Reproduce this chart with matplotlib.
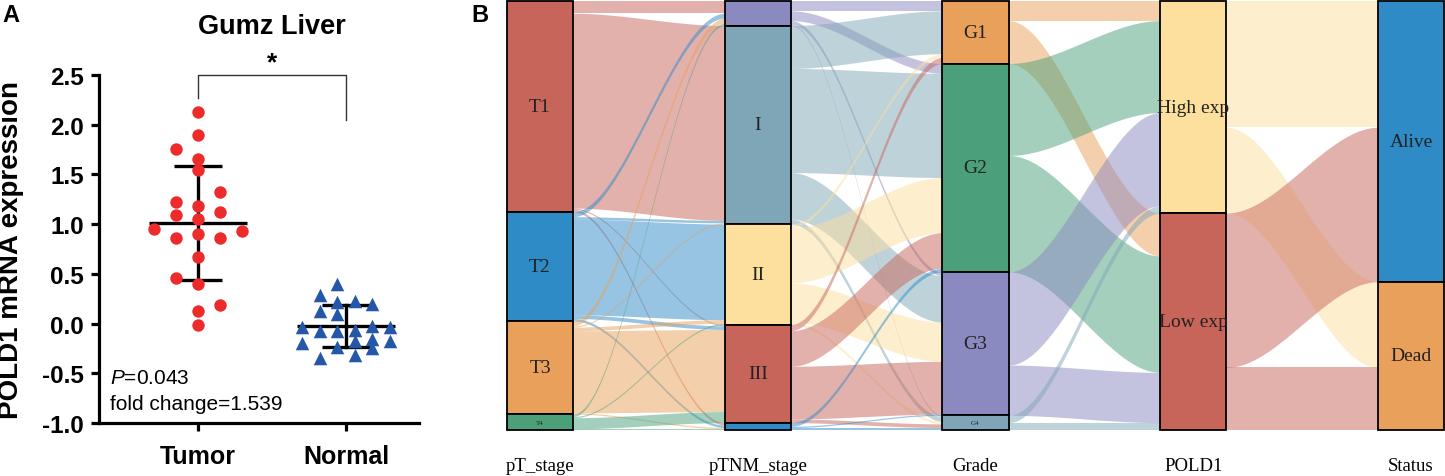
import numpy as np
import matplotlib
matplotlib.use('Agg')
import matplotlib.pyplot as plt
from matplotlib.patches import Rectangle

plt.rcParams['font.family'] = 'Liberation Sans'
plt.rcParams['mathtext.fontset'] = 'custom'
plt.rcParams['mathtext.it'] = 'Liberation Sans:italic'
plt.rcParams['mathtext.rm'] = 'Liberation Sans'

# ---------------- panel A data ----------------
groups = ['Tumor', 'Normal']
tumor_vals = [2.13, 1.90, 1.76, 1.655, 1.545, 1.32, 1.22, 1.18, 1.12, 1.09, 1.05,
              0.95, 0.93, 0.90, 0.86, 0.86, 0.67, 0.46, 0.395, 0.19, 0.13, -0.01]
tumor_slot = [0, 0, -1, 0, 0, 1, -1, 0, 1, -1, 0, -2, 2, 0, -1, 1, 0, -1, 0, 1, 0, 0]
normal_vals = [0.40, 0.29, 0.22, 0.23, 0.20, 0.13, 0.10, -0.03, -0.07, -0.07, -0.06,
               -0.02, -0.03, -0.195, -0.18, -0.16, -0.18, -0.24, -0.25, -0.35, -0.32]
normal_slot = [-0.5, -1.5, -0.5, 0.5, 1.5, -1.5, -0.5, -2.5, -1.5, -0.5, 0.5,
               1.5, 2.5, -2.5, 0.5, 1.5, 2.5, -0.5, 1.5, -1.5, 0.5]
p_text = '$P$=0.043'
fc_text = 'fold change=1.539'

# ---------------- panel B data ----------------
axis_names = ['pT_stage', 'pTNM_stage', 'Grade', 'POLD1', 'Status']
pt_labels = ['T1', 'T2', 'T3', 'T4']
tnm_labels = ['', 'I', 'II', 'III', '']
grade_labels = ['G1', 'G2', 'G3', 'G4']
pold1_labels = ['High exp', 'Low exp']
status_labels = ['Alive', 'Dead']

# patient counts flowing between neighbouring axes (rows = left strata)
pt_tnm = [[10, 159, 0, 1, 2],
          [4, 2, 78, 3, 2],
          [4, 1, 3, 67, 1],
          [2, 0, 1, 9, 1]]
tnm_grade = [[8, 8, 3, 1],
             [35, 85, 38, 4],
             [3, 45, 32, 2],
             [5, 29, 43, 3],
             [0, 3, 1, 2]]
grade_pold1 = [[16, 35],
               [75, 95],
               [76, 41],
               [6, 6]]
pold1_status = [[103, 70],
                [126, 51]]

red, blue, orange, green = '#C8655A', '#2E8BC6', '#E8A05A', '#4BA07A'
purple, teal, yellow = '#8A89C0', '#7FA6B6', '#FDDF9E'
pt_colors = [red, blue, orange, green]
tnm_colors = [purple, teal, yellow, red, blue]
grade_colors = [orange, green, purple, teal]
pold1_colors = [yellow, red]
status_colors = [blue, orange]

fig = plt.figure(figsize=(14.45, 4.77), dpi=100)
W, H = 1445., 477.

# =============== panel A ===============
ax = fig.add_axes([99/W, 53/H, 320/W, 348/H])
tv = np.array(tumor_vals); nv = np.array(normal_vals)
ax.scatter(0 + 0.15*np.array(tumor_slot), tv, s=80, color='#EE2B2B', zorder=3, lw=0)
ax.scatter(1 + 0.119*np.array(normal_slot), nv, s=95, marker='^', color='#2457A8', zorder=3, lw=0)

for i, v in enumerate([tv, nv]):
    m, sd = v.mean(), v.std(ddof=1)
    ax.plot([i-0.33, i+0.33], [m, m], color='black', lw=2.4, zorder=2, solid_capstyle='butt')
    ax.plot([i, i], [m-sd, m+sd], color='black', lw=2.4, zorder=2)
    for y in (m-sd, m+sd):
        ax.plot([i-0.165, i+0.165], [y, y], color='black', lw=2.4, zorder=2, solid_capstyle='butt')

ax.plot([0, 0, 1, 1], [2.27, 2.5, 2.5, 2.05], color='#333333', lw=1.0, clip_on=False)
ax.text(0.5, 2.63, '*', ha='center', va='center', fontsize=19, fontweight='bold')

ax.set_xlim(-0.669, 1.493)
ax.set_ylim(-1.0, 2.5)
ax.set_yticks(np.arange(-1.0, 2.51, 0.5))
ax.set_yticklabels(['%.1f' % t for t in np.arange(-1.0, 2.51, 0.5)], fontsize=17.5, fontweight='bold')
ax.set_xticks([0, 1])
ax.set_xticklabels(groups, fontsize=18, fontweight='bold')
for s in ['top', 'right']:
    ax.spines[s].set_visible(False)
for s in ['left', 'bottom']:
    ax.spines[s].set_linewidth(2.3)
ax.tick_params(axis='both', length=6, width=2.3)
ax.tick_params(axis='y', pad=5)
ax.tick_params(axis='x', pad=9)
ax.set_ylabel('POLD1 mRNA expression', fontsize=20, fontweight='bold')
ax.yaxis.set_label_coords(-0.235, 0.5)
ax.text(0.034, 0.132, p_text, transform=ax.transAxes, fontsize=15, va='center')
ax.text(0.034, 0.055, fc_text, transform=ax.transAxes, fontsize=15, va='center')

fig.text(272/W, 1-27/H, 'Gumz Liver', fontsize=19.5, fontweight='bold', ha='center', va='center')
fig.text(11/W, 1-16/H, 'A', fontsize=17, fontweight='bold', ha='center', va='center')
fig.text(480/W, 1-15/H, 'B', fontsize=17, fontweight='bold', ha='center', va='center')

# =============== panel B ===============
bx = fig.add_axes([507/W, 46/H, 937/W, 429/H])
bx.axis('off')
nw = 66/217.6
N = float(np.sum(pt_tnm))
bx.set_xlim(-nw/2, 4+nw/2)
bx.set_ylim(N, 0)

mats = [np.array(pt_tnm), np.array(tnm_grade), np.array(grade_pold1), np.array(pold1_status)]
sizes = [mats[0].sum(1)] + [m.sum(0) for m in mats]
labels = [pt_labels, tnm_labels, grade_labels, pold1_labels, status_labels]
colors = [pt_colors, tnm_colors, grade_colors, pold1_colors, status_colors]
tops = [np.concatenate([[0], np.cumsum(sz)[:-1]]) for sz in sizes]

def smooth(t):
    return 3*t**2 - 2*t**3

for k, M in enumerate(mats):
    x0, x1 = k + nw/2, k + 1 - nw/2
    xs = np.linspace(x0, x1, 80)
    sm = smooth((xs - x0)/(x1 - x0))
    for s in range(M.shape[0]):
        for t in range(M.shape[1]):
            v = M[s, t]
            if v == 0:
                continue
            ys = tops[k][s] + M[s, :t].sum()
            yt = tops[k+1][t] + M[:s, t].sum()
            top = ys + (yt - ys)*sm
            bx.fill_between(xs, top, top + v, color=colors[k][s], alpha=0.5, lw=0, zorder=1)

for k in range(5):
    for j, sz in enumerate(sizes[k]):
        r = Rectangle((k - nw/2, tops[k][j]), nw, sz, facecolor=colors[k][j],
                      edgecolor='black', lw=1.3, zorder=3, clip_on=False)
        bx.add_patch(r)
        lab = labels[k][j]
        if lab:
            fsz = 14 if sz > 30 else 5
            tx = bx.text(k, tops[k][j] + sz/2, lab, ha='center', va='center', fontsize=fsz,
                         family='Liberation Serif', color='#222222', zorder=4)
            tx.set_clip_path(r)
    bx.text(k, N + 36/429*N, axis_names[k], ha='center', va='center', fontsize=13.5,
            family='Liberation Serif', clip_on=False)

fig.savefig('out.png', dpi=100)
